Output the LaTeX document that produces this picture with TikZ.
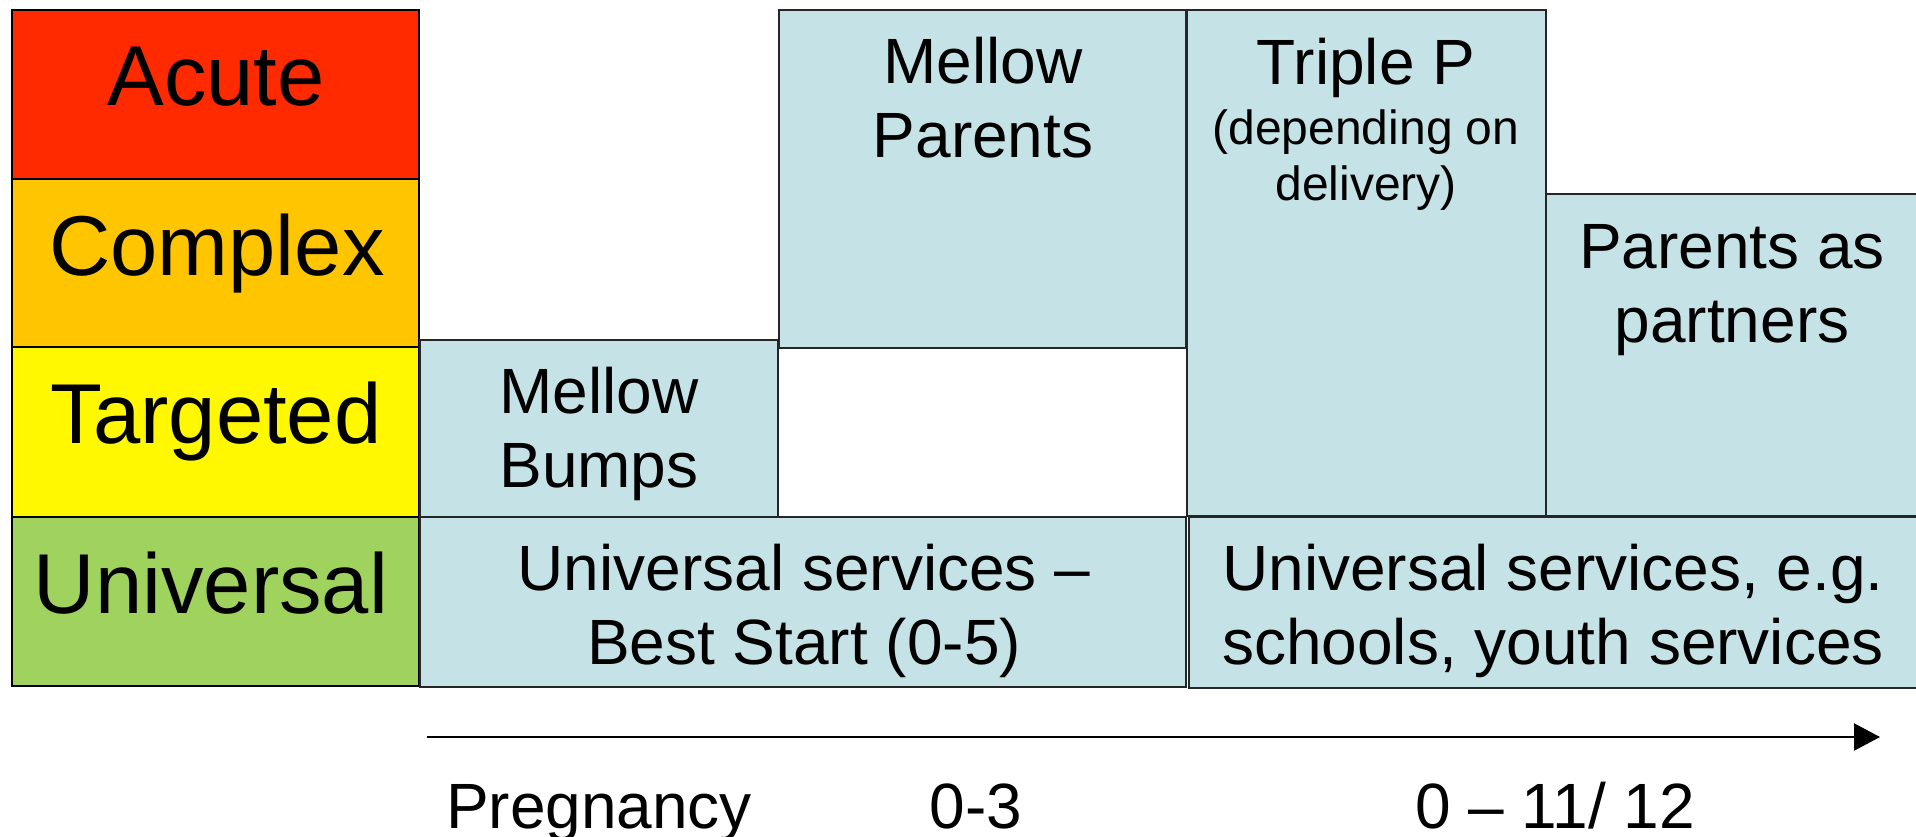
\documentclass[tikz,border=0pt]{standalone}
\usepackage{fontspec}
\setmainfont{Liberation Sans}
\usetikzlibrary{arrows.meta}
\definecolor{acutered}{HTML}{FF2A00}
\definecolor{complexorange}{HTML}{FFC600}
\definecolor{targetyellow}{HTML}{FFF800}
\definecolor{universalgreen}{HTML}{A0D35E}
\definecolor{servicefill}{HTML}{C5E3E7}
\begin{document}
\begin{tikzpicture}[x=1pt,y=-1pt,
  levelbox/.style={draw=black,line width=2.4pt},
  servicebox/.style={draw=black!85,line width=2.2pt,fill=servicefill},
  leveltext/.style={font=\fontsize{85}{98}\selectfont,anchor=base,inner sep=0pt},
  bodytext/.style={font=\fontsize{64}{74}\selectfont,align=center,anchor=base,inner sep=0pt},
  notetext/.style={font=\fontsize{48}{56}\selectfont,align=center,anchor=base,inner sep=0pt},
  timeline/.style={line width=2.4pt,-{Triangle[length=26pt,width=27pt]}}]
\useasboundingbox (0,0) rectangle (1916,836);
\fill[white] (0,0) rectangle (1916,836);

% need levels
\filldraw[levelbox,fill=acutered] (12,10) rectangle (419,179);
\filldraw[levelbox,fill=complexorange] (12,179) rectangle (419,347);
\filldraw[levelbox,fill=targetyellow] (12,347) rectangle (419,517);
\filldraw[levelbox,fill=universalgreen] (12,517) rectangle (419,686);
\node[leveltext] (acute) at (216,105) {Acute};
\node[leveltext] (complex) at (217,275) {Complex};
\node[leveltext] (targeted) at (216,443) {Targeted};
\node[leveltext] (universal) at (211,613) {Universal};

% services
\filldraw[servicebox] (420,340) rectangle (778,517);
\filldraw[servicebox] (779,10) rectangle (1186,348);
\filldraw[servicebox] (1187,10) rectangle (1546,516);
\filldraw[servicebox] (1546,194) rectangle (1919,516);
\filldraw[servicebox] (420,517) rectangle (1186,687);
\filldraw[servicebox] (1189,517) rectangle (1919,688);

% multi-line nodes sit on the baseline of their last line
\node[bodytext] (bumps) at (599,487) {Mellow\\Bumps};
\node[bodytext] (mparents) at (983,157) {Mellow\\Parents};
\node[bodytext] (triplep) at (1366,84) {Triple P};
\node[notetext] (delivery) at (1366,200) {(depending on\\delivery)};
\node[bodytext] (pap) at (1732,342) {Parents as\\partners};
\node[bodytext] (beststart) at (804,664) {Universal services –\\Best Start (0-5)};
\node[bodytext] (schools) at (1553,664) {Universal services, e.g.\\schools, youth services};

% age timeline
\coordinate (tstart) at (427,737);
\coordinate (tend) at (1880,737);
\draw[timeline] (tstart) -- (tend);
\node[bodytext] (pregnancy) at (599,828) {Pregnancy};
\node[bodytext] (zerothree) at (976,828) {0-3};
\node[bodytext] (zerotwelve) at (1555,828) {0 – 11/ 12};
\end{tikzpicture}
\end{document}
